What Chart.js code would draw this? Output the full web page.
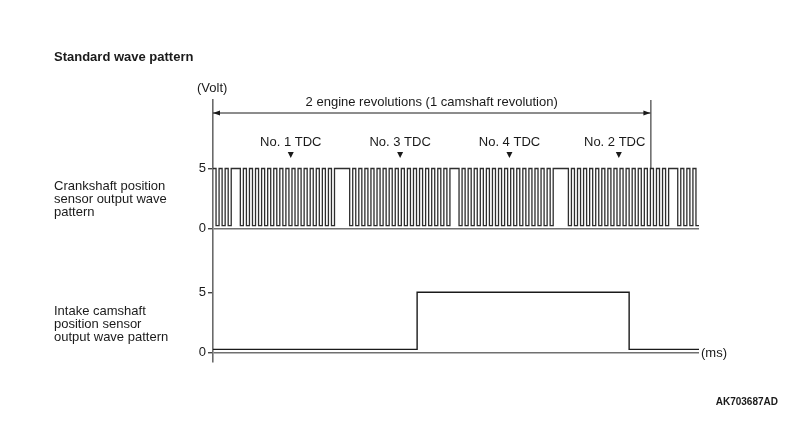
<!DOCTYPE html>
<html>
<head>
<meta charset="utf-8">
<title>Standard wave pattern</title>
<script src="https://cdn.jsdelivr.net/npm/chart.js@4.4.1/dist/chart.umd.min.js"></script>
<style>
  html, body { margin: 0; padding: 0; background: #fff; }
  #wrap { position: relative; width: 800px; height: 424px; }
</style>
</head>
<body>
<div id="wrap"><canvas id="waveChart" width="800" height="424"></canvas></div>
<script>
// ==================== DATA ====================

// Crankshaft sensor: one character per 5 crank degrees ('1' = 5 V, '0' = low)
const crankSections = [
  '101010',
  '111',
  '0101010101010101010101010101010',
  '11111',
  '010101010101010101010101010101010',
  '111',
  '0101010101010101010101010101010',
  '11111',
  '010101010101010101010101010101010',
  '111',
  '0101010'
];
const crankStep = 5;
const crankHigh = 5;
const crankLow = 0.25;

// Intake camshaft sensor: level changes (crank degrees -> volts)
const camAngles = [0, 336, 685, 800];
const camVolts = [0.25, 5, 0.25, 0.25];

// TDC markers
const tdcLabels = ['No. 1 TDC', 'No. 3 TDC', 'No. 4 TDC', 'No. 2 TDC'];
const tdcAngles = [128, 308, 488, 668];

// Two engine revolutions
const revolutionSpan = [0, 720];
const revolutionLabel = '2 engine revolutions (1 camshaft revolution)';

// Volt ticks shown on each panel
const voltTicks = [0, 5];
const voltTickLabels = ['0', '5'];

// ==================== CHART ====================

const FONT = '"Liberation Sans", Arial, Helvetica, sans-serif';
const INK = '#1a1a1a';
const CRANK_SHIFT = 10.3;   // crank panel sits above the cam panel
const Y_MIN = -0.8, Y_MAX = 21;

// crank pattern -> stepped points
const crankPattern = crankSections.join('');
const crankData = [];
for (let i = 0; i < crankPattern.length; i++) {
  if (i === 0 || crankPattern[i] !== crankPattern[i - 1]) {
    crankData.push({ x: i * crankStep, y: crankPattern[i] === '1' ? crankHigh : crankLow });
  }
}
crankData.push({
  x: crankPattern.length * crankStep,
  y: crankPattern[crankPattern.length - 1] === '1' ? crankHigh : crankLow
});

const camData = camAngles.map((a, i) => ({ x: a, y: camVolts[i] }));

function textAt(ctx, str, x, y, opts) {
  opts = opts || {};
  ctx.font = (opts.bold ? 'bold ' : '') + (opts.size || 13) + 'px ' + FONT;
  ctx.textAlign = opts.align || 'left';
  ctx.textBaseline = 'middle';
  ctx.fillStyle = INK;
  ctx.fillText(str, x, y);
}

const annotations = {
  id: 'annotations',
  afterDraw(chart) {
    const ctx = chart.ctx;
    const xs = chart.scales.x;
    const y2 = chart.scales.y2;
    const area = chart.chartArea;
    ctx.save();

    // titles and side labels
    textAt(ctx, 'Standard wave pattern', 54, 57, { bold: true });
    textAt(ctx, '(Volt)', 197, 88);
    ['Crankshaft position', 'sensor output wave', 'pattern'].forEach((s, i) => textAt(ctx, s, 54, 186 + i * 13.3));
    ['Intake camshaft', 'position sensor', 'output wave pattern'].forEach((s, i) => textAt(ctx, s, 54, 311 + i * 13.3));
    textAt(ctx, '(ms)', area.right + 2, 353);
    textAt(ctx, 'AK703687AD', 778, 402, { bold: true, size: 10, align: 'right' });

    // revolution arrow
    const x0 = xs.getPixelForValue(revolutionSpan[0]);
    const x1 = xs.getPixelForValue(revolutionSpan[1]);
    const ay = 113;
    ctx.strokeStyle = INK;
    ctx.fillStyle = INK;
    ctx.lineWidth = 1;
    ctx.beginPath();
    ctx.moveTo(x0, ay); ctx.lineTo(x1, ay);
    ctx.moveTo(x1 + 0.5, area.top);
    ctx.lineTo(x1 + 0.5, y2.getPixelForValue(crankHigh));
    ctx.stroke();
    ctx.beginPath();
    ctx.moveTo(x0, ay); ctx.lineTo(x0 + 7, ay - 2.5); ctx.lineTo(x0 + 7, ay + 2.5); ctx.closePath();
    ctx.moveTo(x1, ay); ctx.lineTo(x1 - 7, ay - 2.5); ctx.lineTo(x1 - 7, ay + 2.5); ctx.closePath();
    ctx.fill();
    textAt(ctx, revolutionLabel, (x0 + x1) / 2, 102, { align: 'center' });

    // TDC labels and markers
    ctx.font = '13px ' + FONT;
    tdcAngles.forEach((a, i) => {
      const px = xs.getPixelForValue(a);
      const w = ctx.measureText(tdcLabels[i]).width;
      const cx = Math.min(px, x1 - 5 - w / 2);
      textAt(ctx, tdcLabels[i], cx, 142, { align: 'center' });
      ctx.beginPath();
      ctx.moveTo(px - 3, 152); ctx.lineTo(px + 3, 152); ctx.lineTo(px, 158); ctx.closePath();
      ctx.fill();
    });

    ctx.restore();
  }
};

new Chart(document.getElementById('waveChart').getContext('2d'), {
  type: 'line',
  data: {
    datasets: [
      {
        label: 'Crankshaft position sensor',
        data: crankData,
        yAxisID: 'y2',
        stepped: true,
        borderColor: '#2e2e2e',
        borderWidth: 1.3,
        pointRadius: 0,
        fill: false
      },
      {
        label: 'Intake camshaft position sensor',
        data: camData,
        yAxisID: 'y',
        stepped: true,
        borderColor: '#1a1a1a',
        borderWidth: 1.4,
        pointRadius: 0,
        fill: false
      }
    ]
  },
  options: {
    responsive: false,
    animation: false,
    layout: { padding: { left: 183, right: 101, top: 100, bottom: 62 } },
    plugins: {
      legend: { display: false },
      tooltip: { enabled: false }
    },
    scales: {
      x: { type: 'linear', min: 0, max: 800, display: false },
      y: {
        min: Y_MIN,
        max: Y_MAX,
        afterFit: s => { s.width = 30; },
        afterBuildTicks: s => {
          s.ticks = voltTicks.map(v => ({ value: v }))
            .concat(voltTicks.map(v => ({ value: v + CRANK_SHIFT })));
        },
        ticks: {
          color: INK,
          padding: 2,
          font: { family: FONT, size: 13 },
          callback: v => voltTickLabels[voltTicks.indexOf(v >= CRANK_SHIFT ? v - CRANK_SHIFT : v)]
        },
        grid: {
          drawOnChartArea: true,
          tickLength: 5,
          tickColor: '#444',
          color: c => (c.tick && (c.tick.value === 0 || c.tick.value === CRANK_SHIFT)) ? '#707070' : 'rgba(0,0,0,0)',
          lineWidth: 1.4
        },
        border: { display: true, color: '#6a6a6a', width: 1.6 }
      },
      y2: {
        min: Y_MIN - CRANK_SHIFT,
        max: Y_MAX - CRANK_SHIFT,
        display: false
      }
    }
  },
  plugins: [annotations]
});
</script>
</body>
</html>
